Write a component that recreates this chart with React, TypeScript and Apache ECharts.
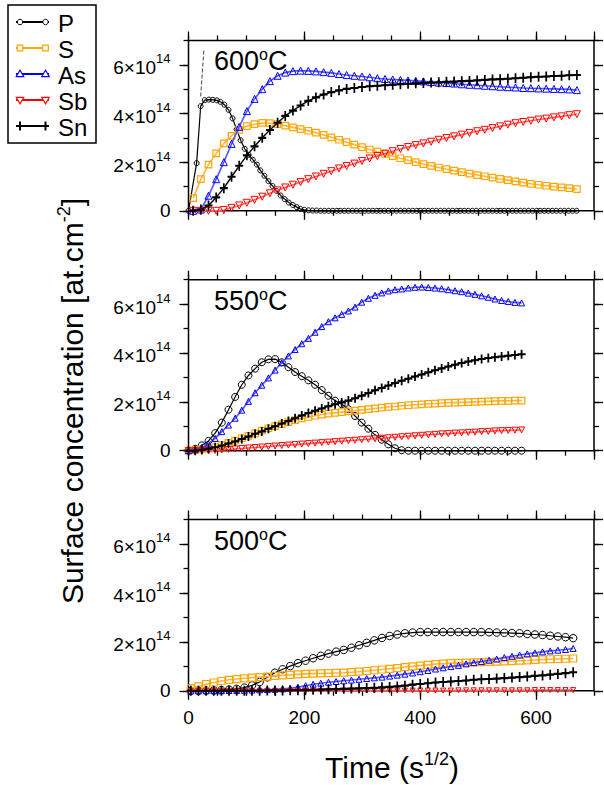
import React, { useEffect, useRef } from 'react';
import * as echarts from 'echarts';

const FONT = '"Liberation Sans", Arial, Helvetica, sans-serif';

// ---------- data (concentration in units of 1e14 at.cm^-2, x in s^1/2) ----------
const panelTemps = ['600', '550', '500'];

// 600 °C
const topPX = [0, 14, 21, 28, 35, 42, 49, 55, 62, 69, 76, 83, 90, 97, 104, 111, 118, 124, 131, 138, 145, 152, 159, 166, 173, 180, 187, 193, 200, 207, 214, 221, 228, 235, 242, 249, 256, 262, 269, 276, 283, 290, 297, 304, 311, 318, 325, 331, 338, 345, 352, 359, 366, 373, 380, 387, 394, 400, 407, 414, 421, 428, 435, 442, 449, 456, 463, 469, 476, 483, 490, 497, 504, 511, 518, 525, 532, 538, 545, 552, 559, 566, 573, 580, 587, 594, 601, 607, 614, 621, 628, 635, 642, 649, 656, 663, 670];
const topP = [0, 1.96, 4.30, 4.55, 4.57, 4.56, 4.54, 4.48, 4.36, 4.15,
  3.80, 3.35, 2.90, 2.55, 2.30, 2.10, 1.90, 1.66, 1.44, 1.22,
  1.02, 0.82, 0.63, 0.48, 0.34, 0.24, 0.15, 0.08, 0.04, 0.02,
  0.01, 0.01, 0, 0, 0, 0, 0, 0, 0, 0,
  0, 0, 0, 0, 0, 0, 0, 0, 0, 0,
  0, 0, 0, 0, 0, 0, 0, 0, 0, 0,
  0, 0, 0, 0, 0, 0, 0, 0, 0, 0,
  0, 0, 0, 0, 0, 0, 0, 0, 0, 0,
  0, 0, 0, 0, 0, 0, 0, 0, 0, 0,
  0, 0, 0, 0, 0, 0, 0];
const topX = [8, 21.3, 34.5, 47.8, 61, 74.3, 87.5, 100.8, 114, 127.3, 140.5, 153.8, 167, 180.3, 193.5, 206.8, 220, 233.3, 246.5, 259.8, 273, 286.3, 299.5, 312.8, 326, 339.3, 352.5, 365.8, 379, 392.3, 405.5, 418.8, 432, 445.3, 458.5, 471.8, 485, 498.3, 511.5, 524.8, 538, 551.3, 564.5, 577.8, 591, 604.3, 617.5, 630.8, 644, 657.3, 670.5];
const topS = [0.52, 1.30, 1.90, 2.36, 2.77, 3.08, 3.33, 3.48, 3.56, 3.61,
  3.60, 3.56, 3.50, 3.43, 3.36, 3.29, 3.21, 3.12, 3.02, 2.92,
  2.82, 2.72, 2.62, 2.52, 2.43, 2.34, 2.25, 2.16, 2.08, 2.00,
  1.92, 1.85, 1.78, 1.71, 1.65, 1.59, 1.53, 1.47, 1.42, 1.36,
  1.31, 1.26, 1.21, 1.16, 1.11, 1.07, 1.03, 0.99, 0.96, 0.93, 0.89];
const topAs = [0, 0.05, 0.62, 1.30, 2.00, 2.75, 3.45, 4.10, 4.60, 5.00,
  5.33, 5.55, 5.68, 5.74, 5.76, 5.75, 5.73, 5.70, 5.67, 5.62,
  5.58, 5.55, 5.52, 5.49, 5.45, 5.42, 5.40, 5.38, 5.36, 5.34,
  5.32, 5.29, 5.27, 5.25, 5.23, 5.20, 5.18, 5.16, 5.14, 5.12,
  5.10, 5.08, 5.07, 5.05, 5.04, 5.03, 5.02, 5.01, 5.00, 4.99, 4.96];
const topSb = [0, 0, 0, 0, 0.03, 0.12, 0.22, 0.33, 0.45, 0.58,
  0.72, 0.84, 0.96, 1.07, 1.18, 1.30, 1.41, 1.52, 1.63, 1.74,
  1.84, 1.94, 2.05, 2.15, 2.25, 2.35, 2.45, 2.54, 2.62, 2.70,
  2.77, 2.84, 2.92, 2.99, 3.06, 3.13, 3.20, 3.27, 3.33, 3.40,
  3.47, 3.54, 3.60, 3.65, 3.70, 3.75, 3.79, 3.84, 3.88, 3.93, 3.97];
const topSn = [0, 0.05, 0.22, 0.55, 0.93, 1.40, 1.85, 2.28, 2.65, 3.00,
  3.32, 3.62, 3.90, 4.12, 4.33, 4.52, 4.66, 4.78, 4.88, 4.95,
  5.01, 5.05, 5.09, 5.12, 5.14, 5.16, 5.18, 5.20, 5.22, 5.24,
  5.25, 5.27, 5.28, 5.30, 5.31, 5.33, 5.34, 5.36, 5.38, 5.40,
  5.41, 5.43, 5.45, 5.47, 5.49, 5.51, 5.52, 5.54, 5.55, 5.57, 5.58];
const guideX = [21, 26.5];
const guideY = [4.7, 6.6];

// 550 °C
const midX = [0, 11.5, 23, 34.5, 46, 57.5, 69, 80.5, 92, 103.5, 115, 126.5, 138, 149.5, 161, 172.5, 184, 195.5, 207, 218.5, 230, 241.5, 253, 264.5, 276, 287.5, 299, 310.5, 322, 333.5, 345, 356.5, 368, 379.5, 391, 402.5, 414, 425.5, 437, 448.5, 460, 471.5, 483, 494.5, 506, 517.5, 529, 540.5, 552, 563.5, 575];
const midP = [0, 0.08, 0.22, 0.40, 0.72, 1.15, 1.68, 2.20, 2.70, 3.08,
  3.36, 3.62, 3.74, 3.75, 3.62, 3.42, 3.22, 3.05, 2.88, 2.70,
  2.48, 2.25, 2.05, 1.90, 1.70, 1.42, 1.15, 0.90, 0.65, 0.45,
  0.26, 0.10, 0.02, 0, 0, 0, 0, 0, 0, 0,
  0, 0, 0, 0, 0, 0, 0, 0, 0, 0, 0];
const midS = [0, 0.02, 0.05, 0.09, 0.15, 0.23, 0.32, 0.41, 0.51, 0.61,
  0.71, 0.82, 0.92, 1.01, 1.09, 1.17, 1.25, 1.32, 1.38, 1.43,
  1.48, 1.52, 1.55, 1.58, 1.61, 1.64, 1.67, 1.70, 1.73, 1.76,
  1.79, 1.81, 1.84, 1.86, 1.88, 1.90, 1.92, 1.93, 1.95, 1.96,
  1.97, 1.98, 1.99, 2.00, 2.01, 2.02, 2.03, 2.04, 2.04, 2.05, 2.05];
const midAs = [0, 0.04, 0.13, 0.28, 0.50, 0.78, 1.05, 1.33, 1.66, 2.02,
  2.37, 2.68, 2.98, 3.30, 3.60, 3.88, 4.14, 4.38, 4.60, 4.85,
  5.08, 5.28, 5.44, 5.58, 5.72, 5.88, 6.08, 6.24, 6.36, 6.46,
  6.54, 6.59, 6.62, 6.66, 6.69, 6.70, 6.68, 6.66, 6.63, 6.59,
  6.55, 6.51, 6.45, 6.40, 6.34, 6.28, 6.21, 6.15, 6.11, 6.07, 6.05];
const midSb = [0, 0, 0, 0, 0.01, 0.03, 0.05, 0.07, 0.09, 0.11,
  0.13, 0.15, 0.17, 0.19, 0.21, 0.23, 0.25, 0.27, 0.29, 0.31,
  0.33, 0.35, 0.37, 0.39, 0.41, 0.43, 0.45, 0.47, 0.49, 0.51,
  0.53, 0.55, 0.57, 0.59, 0.61, 0.63, 0.65, 0.67, 0.69, 0.70,
  0.72, 0.73, 0.75, 0.76, 0.78, 0.79, 0.81, 0.82, 0.83, 0.84, 0.85];
const midSn = [0, 0, 0.03, 0.08, 0.14, 0.21, 0.29, 0.38, 0.48, 0.58,
  0.69, 0.79, 0.90, 1.00, 1.11, 1.22, 1.33, 1.44, 1.54, 1.64,
  1.73, 1.82, 1.90, 1.97, 2.05, 2.15, 2.25, 2.36, 2.47, 2.57,
  2.67, 2.77, 2.86, 2.95, 3.04, 3.12, 3.21, 3.29, 3.37, 3.45,
  3.52, 3.59, 3.65, 3.70, 3.75, 3.79, 3.83, 3.86, 3.89, 3.92, 3.95];

// 500 °C
const botX = [4, 17.2, 30.4, 43.6, 56.8, 70, 83.2, 96.4, 109.6, 122.8, 136, 149.2, 162.4, 175.6, 188.8, 202, 215.2, 228.4, 241.6, 254.8, 268, 281.2, 294.4, 307.6, 320.8, 334, 347.2, 360.4, 373.6, 386.8, 400, 413.2, 426.4, 439.6, 452.8, 466, 479.2, 492.4, 505.6, 518.8, 532, 545.2, 558.4, 571.6, 584.8, 598, 611.2, 624.4, 637.6, 650.8, 664];
const botP = [0, 0, 0.01, 0.02, 0.03, 0.05, 0.08, 0.13, 0.22, 0.36,
  0.55, 0.74, 0.88, 1.01, 1.13, 1.23, 1.33, 1.43, 1.52, 1.60,
  1.67, 1.76, 1.86, 1.96, 2.06, 2.16, 2.24, 2.30, 2.35, 2.38,
  2.40, 2.40, 2.40, 2.40, 2.40, 2.40, 2.40, 2.40, 2.40, 2.39,
  2.38, 2.37, 2.36, 2.35, 2.32, 2.30, 2.28, 2.25, 2.22, 2.19, 2.15];
const botS = [0.10, 0.18, 0.27, 0.34, 0.40, 0.45, 0.48, 0.51, 0.54, 0.56,
  0.58, 0.61, 0.63, 0.65, 0.67, 0.69, 0.70, 0.71, 0.72, 0.73,
  0.74, 0.76, 0.78, 0.81, 0.84, 0.87, 0.90, 0.93, 0.97, 1.00,
  1.03, 1.06, 1.09, 1.11, 1.13, 1.14, 1.15, 1.16, 1.17, 1.18,
  1.19, 1.20, 1.21, 1.23, 1.24, 1.26, 1.28, 1.29, 1.30, 1.31, 1.32];
const botAs = [0, 0, 0, 0, 0, 0.01, 0.01, 0.02, 0.03, 0.04,
  0.05, 0.06, 0.08, 0.10, 0.15, 0.21, 0.27, 0.31, 0.35, 0.38,
  0.41, 0.44, 0.47, 0.50, 0.53, 0.56, 0.60, 0.64, 0.68, 0.73,
  0.78, 0.83, 0.89, 0.94, 0.99, 1.04, 1.10, 1.15, 1.20, 1.25,
  1.30, 1.36, 1.41, 1.46, 1.51, 1.55, 1.59, 1.63, 1.66, 1.69, 1.73];
const botSb = [0, 0, 0, 0, 0, 0, 0, 0, 0, 0,
  0, 0, 0, 0, 0, 0, 0, 0, 0, 0,
  0.01, 0.01, 0.01, 0.01, 0.01, 0.01, 0.01, 0.01, 0.01, 0.01,
  0.01, 0.01, 0.01, 0.01, 0.01, 0.02, 0.02, 0.02, 0.02, 0.02,
  0.02, 0.02, 0.02, 0.02, 0.02, 0.03, 0.03, 0.03, 0.03, 0.03, 0.03];
const botSn = [0, 0, 0, 0, 0, 0, 0, 0, 0, 0,
  0.01, 0.01, 0.01, 0.02, 0.02, 0.03, 0.04, 0.05, 0.06, 0.07,
  0.08, 0.09, 0.10, 0.11, 0.12, 0.14, 0.16, 0.18, 0.21, 0.25,
  0.28, 0.31, 0.34, 0.36, 0.38, 0.40, 0.42, 0.45, 0.47, 0.48,
  0.50, 0.52, 0.54, 0.56, 0.58, 0.61, 0.63, 0.66, 0.69, 0.72, 0.76];

const legendNames = ['P', 'S', 'As', 'Sb', 'Sn'];

// ---------- styles ----------
const PLUS = 'path://M4,0L4,10M0,5L8,5';
const STY: Record<string, any> = {
  P: { color: '#000000', line: '#000000', lw: 1.2, bw: 1, symbol: 'circle', rotate: 0 },
  S: { color: '#FFA500', line: '#FFB640', lw: 1.6, bw: 1.2, symbol: 'rect', rotate: 0 },
  As: { color: '#0000FF', line: '#5555FF', lw: 1.6, bw: 1, symbol: 'triangle', rotate: 0 },
  Sb: { color: '#FF0000', line: '#FF6060', lw: 1.6, bw: 1, symbol: 'triangle', rotate: 180 },
  Sn: { color: '#000000', line: '#000000', lw: 1.4, bw: 1.9, symbol: PLUS, rotate: 0 },
};
const SIZES: Record<string, any>[] = [
  { P: 5, S: 6.5, As: 7, Sb: 7, Sn: [8, 10] },
  { P: 7, S: 6.5, As: 6, Sb: 6, Sn: [8, 9] },
  { P: 7.5, S: 7, As: 6, Sb: 5, Sn: [8, 10] },
];
const GRID_TOP = [40.5, 279.7, 519.5];
const GRID_H = [170.3, 171, 171.3];

function buildOption() {
  const grids = GRID_TOP.map((t, i) => ({
    left: 188.5, top: t, width: 405.5, height: GRID_H[i],
    show: true, borderColor: '#000', borderWidth: 1.5, backgroundColor: 'transparent',
    containLabel: false, outerBoundsMode: 'none',
  }));

  const xAxes: any[] = [];
  const yAxes: any[] = [];
  for (let g = 0; g < 3; g++) {
    const mk = (pos: string, interval: number, len: number, labels: boolean) => ({
      type: 'value', gridIndex: g, position: pos, min: 0, max: 700, interval,
      axisLine: { show: false, onZero: false },
      axisTick: { show: true, inside: false, length: len, lineStyle: { color: '#000', width: 1.3 } },
      axisLabel: { show: labels, showMaxLabel: false, color: '#000', fontSize: 19, fontFamily: FONT, margin: 17 },
      splitLine: { show: false },
    });
    xAxes.push(mk('bottom', 200, 9, g === 2), mk('bottom', 50, 5, false), mk('top', 200, 9, false), mk('top', 50, 5, false));
    const mky = (pos: string, interval: number, len: number, labels: boolean) => ({
      type: 'value', gridIndex: g, position: pos, min: 0, max: 7, interval,
      axisLine: { show: false, onZero: false },
      axisTick: { show: true, inside: false, length: len, lineStyle: { color: '#000', width: 1.3 } },
      axisLabel: {
        show: labels, showMaxLabel: false, margin: 18,
        formatter: (v: number) => (v === 0 ? '{n|0}' : `{h| }{n|${v}×10}{s|14}`),
        rich: {
          h: { fontSize: 10, lineHeight: 25, width: 0, verticalAlign: 'middle' },
          n: { fontSize: 19, fontFamily: FONT, color: '#000', lineHeight: 19, verticalAlign: 'bottom' },
          s: { fontSize: 13, fontFamily: FONT, color: '#000', lineHeight: 13, verticalAlign: 'top' },
        },
      },
      splitLine: { show: false },
    });
    yAxes.push(mky('left', 2, 9, true), mky('left', 1, 5, false), mky('right', 2, 9, false), mky('right', 1, 5, false));
  }

  const line = (name: string, xs: number[], ys: number[], g: number, z: number) => {
    const st = STY[name];
    return {
      type: 'line', name, xAxisIndex: g * 4, yAxisIndex: g * 4,
      data: xs.map((x, i) => [x, ys[i]]),
      symbol: st.symbol, symbolSize: SIZES[g][name], symbolRotate: st.rotate,
      lineStyle: { color: st.line, width: st.lw },
      itemStyle: { color: 'rgba(0,0,0,0)', borderColor: st.color, borderWidth: st.bw },
      emphasis: { disabled: true }, clip: false, silent: true, z,
    };
  };

  const series: any[] = [
    {
      type: 'line', name: 'guide', xAxisIndex: 0, yAxisIndex: 0,
      data: guideX.map((x, i) => [x, guideY[i]]), symbol: 'none',
      lineStyle: { color: '#444', width: 1, type: [4, 2] }, silent: true, z: 1,
    },
    line('P', topPX, topP, 0, 2), line('S', topX, topS, 0, 3), line('As', topX, topAs, 0, 4),
    line('Sb', topX, topSb, 0, 5), line('Sn', topX, topSn, 0, 6),
    line('P', midX, midP, 1, 2), line('S', midX, midS, 1, 3), line('As', midX, midAs, 1, 4),
    line('Sb', midX, midSb, 1, 5), line('Sn', midX, midSn, 1, 6),
    line('P', botX, botP, 2, 2), line('S', botX, botS, 2, 3), line('As', botX, botAs, 2, 4),
    line('Sb', botX, botSb, 2, 5), line('Sn', botX, botSn, 2, 6),
  ];

  // legend drawn as graphic (line with marker at both ends)
  const legendEls: any[] = [
    { type: 'rect', shape: { x: 8, y: 5, width: 88, height: 138 }, style: { fill: '#fff', stroke: '#000', lineWidth: 1.5 } },
  ];
  const rowY = [22, 48, 74, 100, 126];
  const mx = [20, 45.5];
  legendNames.forEach((nm, i) => {
    const y = rowY[i];
    const st = STY[nm];
    legendEls.push({ type: 'line', shape: { x1: 16, y1: y, x2: 49, y2: y }, style: { stroke: st.color, lineWidth: 2 } });
    mx.forEach((cx) => {
      if (nm === 'P') legendEls.push({ type: 'circle', shape: { cx, cy: y, r: 2.7 }, style: { fill: '#fff', stroke: '#000', lineWidth: 1 } });
      if (nm === 'S') legendEls.push({ type: 'rect', shape: { x: cx - 2.8, y: y - 2.8, width: 5.6, height: 5.6 }, style: { fill: '#fff', stroke: st.color, lineWidth: 1.2 } });
      if (nm === 'As') legendEls.push({ type: 'polygon', shape: { points: [[cx - 3.8, y + 2.6], [cx + 3.8, y + 2.6], [cx, y - 3.8]] }, style: { fill: '#fff', stroke: st.color, lineWidth: 1.1 } });
      if (nm === 'Sb') legendEls.push({ type: 'polygon', shape: { points: [[cx - 3.8, y - 2.6], [cx + 3.8, y - 2.6], [cx, y + 3.8]] }, style: { fill: '#fff', stroke: st.color, lineWidth: 1.1 } });
      if (nm === 'Sn') legendEls.push({ type: 'line', shape: { x1: cx, y1: y - 4.5, x2: cx, y2: y + 4.5 }, style: { stroke: '#000', lineWidth: 2 } });
    });
    legendEls.push({ type: 'text', x: 58, y: y + 1, style: { text: nm, fontSize: 24, fontFamily: FONT, fill: '#000', align: 'left', verticalAlign: 'middle' } });
  });

  const titleRich = {
    n: { fontSize: 27, fontFamily: FONT, fill: '#000', lineHeight: 28, verticalAlign: 'bottom' },
    s: { fontSize: 16, fontFamily: FONT, fill: '#000', lineHeight: 16, verticalAlign: 'top' },
  };
  const titleY = [60, 300, 540];
  const panelTitleEls = panelTemps.map((t, i) => ({
    type: 'text', x: 214, y: titleY[i],
    style: { text: `{n|${t}}{s|o}{n|C}`, rich: titleRich, align: 'left', verticalAlign: 'middle' },
  }));

  const axRich = {
    n: { fontSize: 30, fontFamily: FONT, fill: '#000', lineHeight: 32, verticalAlign: 'bottom' },
    s: { fontSize: 18, fontFamily: FONT, fill: '#000', lineHeight: 18, verticalAlign: 'top' },
  };
  const axisTitleEls = [
    { type: 'text', x: 392, y: 766, style: { text: '{n|Time (s}{s|1/2}{n|)}', rich: axRich, align: 'center', verticalAlign: 'middle' } },
    { type: 'text', x: 71, y: 401, rotation: Math.PI / 2, style: { text: '{n|Surface concentration [at.cm}{s|-2}{n|]}', rich: axRich, align: 'center', verticalAlign: 'middle' } },
  ];

  return {
    animation: false,
    backgroundColor: '#fff',
    grid: grids,
    xAxis: xAxes,
    yAxis: yAxes,
    series,
    graphic: [...legendEls, ...panelTitleEls, ...axisTitleEls].map((e) => ({ ...e, z: 100, silent: true })),
  };
}

export default function App() {
  const ref = useRef<HTMLDivElement>(null);
  useEffect(() => {
    document.body.style.margin = '0';
    const chart = echarts.init(ref.current as HTMLDivElement, null, { renderer: 'svg' });
    chart.setOption(buildOption() as any);
    return () => chart.dispose();
  }, []);
  return <div ref={ref} style={{ width: 604, height: 785 }} />;
}
